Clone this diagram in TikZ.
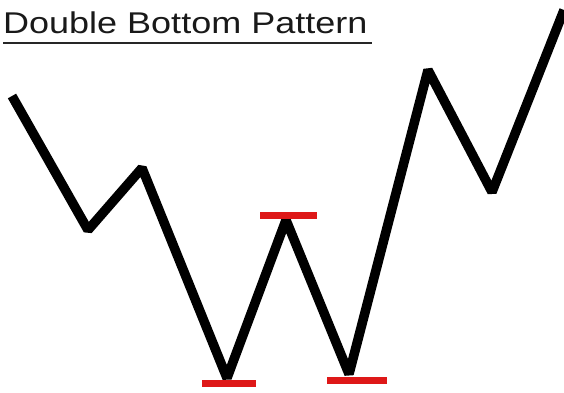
\documentclass[tikz,border=0pt]{standalone}
\usepackage{fontspec}
\setmainfont{Liberation Sans}
\definecolor{barred}{RGB}{222,24,24}
\begin{document}
\begin{tikzpicture}[x=1pt,y=-1pt,
  price/.style={line width=9.5pt,black,line join=bevel},
  level/.style={line width=7pt,barred},
  titletext/.style={inner sep=0pt,anchor=base west,font=\fontsize{30}{32}\selectfont,text=black!90}]
\useasboundingbox (0,0) rectangle (564,392);
\fill[white] (0,0) rectangle (564,392);
\node[titletext] (title) at (3,33) {\scalebox{1.2}[1]{Double Bottom Pattern}};
\coordinate (ul1) at (3,43);
\coordinate (ul2) at (372,43);
\draw[line width=2.5pt,black!85] (ul1) -- (ul2);
\coordinate (p0) at (12,96);
\coordinate (p1) at (88,230);
\coordinate (p2) at (142,168);
\coordinate (p3) at (227,378);
\coordinate (p4) at (286,220);
\coordinate (p5) at (349,374);
\coordinate (p6) at (428,70);
\coordinate (p7) at (492,192);
\coordinate (p8) at (564,10);
\draw[price] (p0) -- (p1) -- (p2) -- (p3) -- (p4) -- (p5) -- (p6) -- (p7) -- (p8);
\coordinate (b1a) at (202,383);
\coordinate (b1b) at (256,383);
\coordinate (b2a) at (260,215);
\coordinate (b2b) at (317,215);
\coordinate (b3a) at (327,380);
\coordinate (b3b) at (387,380);
\draw[level] (b1a) -- (b1b);
\draw[level] (b2a) -- (b2b);
\draw[level] (b3a) -- (b3b);
\end{tikzpicture}
\end{document}
